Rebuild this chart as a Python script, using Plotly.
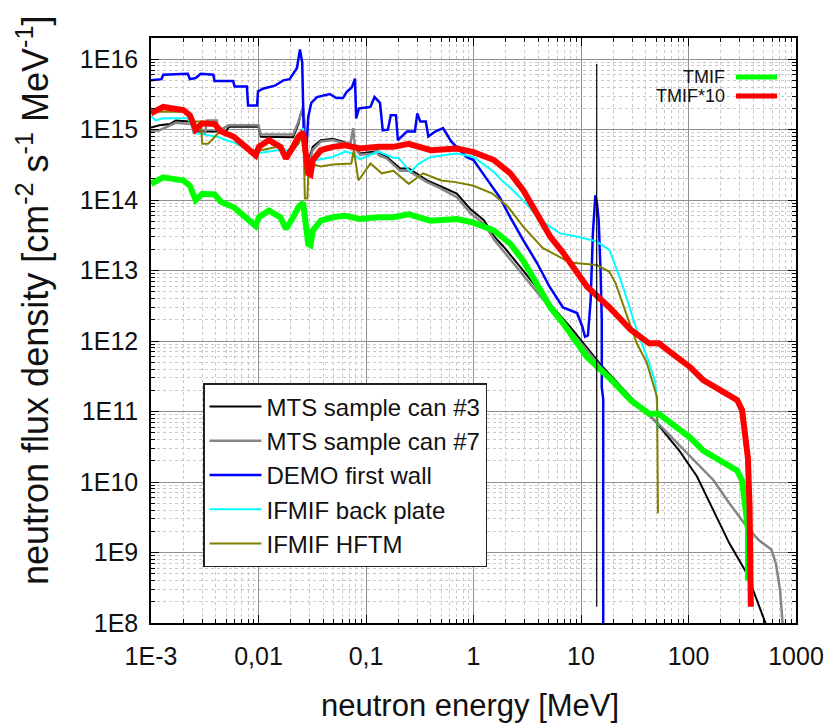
import plotly.graph_objects as go

# ---------------- data ----------------
mts3_E = [1.0e-3, 1.2e-3, 1.5e-3, 1.7e-3, 2.4e-3, 2.5e-3, 5.0e-3, 5.3e-3, 1.0e-2, 0.0105, 0.021,
          0.0235, 0.025, 0.0265, 0.028, 0.032, 0.038, 0.049, 0.06, 0.075, 0.088, 0.12, 0.156,
          0.208, 0.25, 0.37, 0.48, 0.70, 0.94, 1.25, 1.57, 1.9, 2.9, 5.1, 7.9, 11.3, 15.3, 29,
          51, 82, 120, 170, 240, 350, 425, 520, 560]
mts3_flux = [1.07e15, 1.15e15, 1.2e15, 1.35e15, 1.3e15, 9.4e14, 9.4e14, 1.1e15, 1.1e15, 7.9e14, 7.8e14,
             1.2e15, 1.8e15, 1.5e15, 2.9e14, 5.7e14, 7.1e14, 7.4e14, 6.8e14, 6.0e14, 4.6e14, 4.9e14, 4.1e14,
             2.8e14, 2.8e14, 1.9e14, 1.6e14, 1.24e14, 7.4e13, 5.2e13, 3.0e13, 2.2e13, 1.0e13, 3.4e12, 1.6e12,
             8.3e11, 4.6e11, 1.6e11, 6.8e10, 2.8e10, 1.2e10, 4e9, 1.35e9, 5e8, 2.3e8, 1e8, 6e7]

mts7_E = [1.0e-3, 1.2e-3, 1.7e-3, 2.4e-3, 2.5e-3, 3.2e-3, 3.3e-3, 4.1e-3, 4.2e-3, 5.3e-3, 1.0e-2,
          0.0105, 0.021, 0.0235, 0.026, 0.0265, 0.028, 0.032, 0.038, 0.049, 0.06, 0.072, 0.076,
          0.079, 0.088, 0.12, 0.125, 0.13, 0.156, 0.208, 0.25, 0.37, 0.48, 0.70, 0.94, 1.25, 1.57,
          1.9, 2.9, 5.1, 7.9, 11.3, 15.3, 20, 29, 51, 82, 120, 170, 240, 350, 450, 590, 650, 710,
          750, 760]
mts7_flux = [9.6e14, 9.8e14, 1.25e15, 1.2e15, 9.0e14, 9.0e14, 1.35e15, 1.35e15, 9.5e14, 1.15e15, 1.15e15,
             8.5e14, 8.5e14, 1.3e15, 2.1e15, 1.5e15, 2.6e14, 5.2e14, 6.8e14, 7.1e14, 6.5e14, 6.5e14, 1.05e15,
             5.5e14, 4.4e14, 4.6e14, 6.0e14, 4.4e14, 3.9e14, 2.6e14, 2.6e14, 1.8e14, 1.5e14, 1.1e14, 6.5e13,
             4.6e13, 2.7e13, 1.9e13, 8.8e12, 3.0e12, 1.45e12, 7.6e11, 4.3e11, 2.5e11, 1.55e11, 7.0e10, 3.3e10,
             1.8e10, 1.07e10, 5e9, 2.3e9, 1.5e9, 1.1e9, 7e8, 3e8, 1e8, 5e7]

demo_E = [1.0e-3, 1.25e-3, 1.3e-3, 2.2e-3, 2.3e-3, 2.6e-3, 2.9e-3, 3.8e-3, 3.9e-3, 5.8e-3, 6.0e-3,
          7.8e-3, 8.0e-3, 9.7e-3, 9.9e-3, 0.011, 0.0142, 0.017, 0.0195, 0.021, 0.0228, 0.0243,
          0.0255, 0.0265, 0.028, 0.029, 0.031, 0.035, 0.046, 0.053, 0.061, 0.066, 0.074, 0.079,
          0.081, 0.086, 0.11, 0.12, 0.135, 0.143, 0.16, 0.17, 0.19, 0.198, 0.24, 0.285, 0.30, 0.32,
          0.36, 0.38, 0.44, 0.52, 0.58, 0.62, 0.86, 1.0, 1.43, 1.75, 2.2, 2.9, 3.9, 5.1, 6.8, 9.2,
          10.3, 10.9, 11.6, 12.3, 12.9, 13.6, 14.1, 14.6, 15.2, 15.6, 15.6, 16.1, 16.1]
demo_flux = [5.0e15, 5.2e15, 6.0e15, 6.2e15, 5.2e15, 5.4e15, 6.2e15, 6.0e15, 4.9e15, 4.9e15, 4.1e15,
             4.1e15, 2.2e15, 2.2e15, 3.5e15, 3.8e15, 4.2e15, 5.0e15, 5.2e15, 6.3e15, 7.5e15, 1.37e16,
             9.0e15, 6.0e14, 5.7e14, 1.5e15, 2.4e15, 2.9e15, 3.2e15, 2.8e15, 2.8e15, 3.4e15, 4.0e15, 5.3e15,
             1.44e15, 2.0e15, 2.1e15, 2.9e15, 2.4e15, 9.8e14, 1.0e15, 1.6e15, 1.6e15, 7.1e14, 9.4e14, 9.4e14,
             1.7e15, 1.3e15, 1.3e15, 8.0e14, 9.4e14, 1.05e15, 8.0e14, 6.8e14, 4.1e14, 3.7e14, 1.7e14, 1.1e14,
             5.7e13, 2.7e13, 1.28e13, 5.9e12, 3.0e12, 2.5e12, 1.6e12, 1.15e12, 1.2e12, 3.8e12, 3.4e13,
             1.17e14, 9.0e13, 5.2e13, 1.0e13, 2.0e12, 2.2e11, 1.5e11, 5e7]

backplate_E = [1.0e-3, 1.1e-3, 1.3e-3, 2.2e-3, 2.6e-3, 4.1e-3, 6.0e-3, 8.2e-3, 0.0105, 0.015, 0.0195,
               0.0235, 0.026, 0.0275, 0.029, 0.032, 0.035, 0.049, 0.064, 0.075, 0.088, 0.13, 0.18,
               0.20, 0.26, 0.31, 0.4, 0.7, 1.0, 1.55, 1.9, 2.2, 3.1, 4.2, 6.3, 9.5, 14, 18.4, 24, 33,
               43, 49, 51, 51.5]
backplate_flux = [1.55e15, 1.35e15, 1.45e15, 1.45e15, 8.9e14, 7.9e14, 6.5e14, 5.1e14, 4.7e14, 5.1e14, 5.1e14,
                  6.3e14, 1.05e15, 4.0e14, 2.5e14, 3.7e14, 3.7e14, 4.1e14, 4.9e14, 4.6e14, 3.8e14, 4.9e14, 4.0e14,
                  4.0e14, 2.5e14, 3.3e14, 4.1e14, 4.6e14, 4.1e14, 2.5e14, 1.8e14, 1.5e14, 8.9e13, 5.2e13, 3.4e13,
                  3.0e13, 2.6e13, 1.95e13, 6.6e12, 1.45e12, 4.9e11, 2.6e11, 1.2e11, 5.5e10]

hftm_E = [1.0e-3, 1.2e-3, 2.2e-3, 2.5e-3, 2.9e-3, 3.0e-3, 3.4e-3, 3.9e-3, 4.5e-3, 5.5e-3, 6.3e-3,
          8.1e-3, 0.0105, 0.015, 0.017, 0.018, 0.021, 0.0235, 0.025, 0.0262, 0.027, 0.0285, 0.029,
          0.032, 0.038, 0.049, 0.064, 0.073, 0.077, 0.08, 0.085, 0.1, 0.11, 0.14, 0.18, 0.25, 0.34,
          0.5, 0.68, 1.0, 1.5, 1.9, 2.1, 2.9, 4.4, 7.9, 14, 18.4, 21, 27, 33, 41, 49, 51, 52]
hftm_flux = [2.0e15, 1.8e15, 1.8e15, 1.3e15, 1.3e15, 6.3e14, 6.3e14, 7.9e14, 9.8e14, 8.5e14, 7.9e14,
             5.1e14, 5.1e14, 5.7e14, 5.5e14, 4.1e14, 5.1e14, 6.3e14, 7.9e14, 8.0e14, 1.05e14, 1.05e14, 2.1e14,
             3.2e14, 3.0e14, 3.2e14, 3.3e14, 3.3e14, 5.1e14, 3.5e14, 1.9e14, 2.7e14, 3.3e14, 2.4e14, 2.6e14,
             1.7e14, 2.4e14, 1.9e14, 1.8e14, 1.6e14, 1.24e14, 9.1e13, 8.0e13, 4.2e13, 2.1e13, 1.3e13, 1.2e13,
             9.6e12, 6.6e12, 2.2e12, 9.3e11, 4.9e11, 2.0e11, 1.6e11, 3.6e9]

tmif_E = [1.0e-3, 1.3e-3, 1.6e-3, 2.0e-3, 2.3e-3, 2.6e-3, 3.0e-3, 3.9e-3, 4.5e-3, 5.9e-3, 6.7e-3,
          8.1e-3, 9.4e-3, 0.0101, 0.0125, 0.016, 0.018, 0.021, 0.0235, 0.026, 0.0275, 0.029, 0.0305,
          0.032, 0.038, 0.049, 0.064, 0.088, 0.13, 0.18, 0.25, 0.4, 0.7, 1.0, 1.55, 2.2, 2.9, 3.9,
          5.2, 6.8, 11.4, 18.4, 29, 43, 53, 78, 103, 137, 211, 284, 315, 333, 345, 357]
tmif_flux = [1.7e14, 2.1e14, 2.0e14, 1.9e14, 1.6e14, 1.0e14, 1.23e14, 1.2e14, 9.4e13, 7.9e13, 6.7e13,
             5.1e13, 4.3e13, 5.7e13, 7.1e13, 5.7e13, 3.9e13, 5.7e13, 7.9e13, 9.2e13, 5.0e13, 2.4e13, 2.3e13,
             3.7e13, 5.1e13, 5.7e13, 6.0e13, 5.4e13, 5.7e13, 5.7e13, 6.3e13, 5.1e13, 5.4e13, 4.8e13, 3.7e13,
             2.4e13, 1.38e13, 6.5e12, 3.0e12, 1.8e12, 5.9e11, 3.0e11, 1.45e11, 9.3e10, 9.3e10, 5.9e10,
             4.3e10, 2.8e10, 1.9e10, 1.45e10, 1.05e10, 5.5e9, 2.6e9, 2.2e9]
tmif_tail_E = [357]
tmif_tail_flux = [4e8]
tmif10_tail_E = [370, 380]
tmif10_tail_flux = [4.4e9, 1.7e8]

dt14_E = [14, 14]
dt14_flux = [8.5e15, 1.7e8]

x_tickvals = [1e-3, 1e-2, 1e-1, 1, 10, 100, 1000]
x_ticktext = ["1E-3", "0,01", "0,1", "1", "10", "100", "1000"]
y_tickvals = [1e8, 1e9, 1e10, 1e11, 1e12, 1e13, 1e14, 1e15, 1e16]
y_ticktext = ["1E8", "1E9", "1E10", "1E11", "1E12", "1E13", "1E14", "1E15", "1E16"]

# ---------------- figure ----------------
FONT = "Arial, 'Liberation Sans', sans-serif"
fig = go.Figure()

series = [
    ("MTS sample can #3", mts3_E, mts3_flux, "#000000", 2),
    ("MTS sample can #7", mts7_E, mts7_flux, "#858585", 2.5),
    ("DEMO first wall", demo_E, demo_flux, "#0000ff", 2.5),
    ("IFMIF back plate", backplate_E, backplate_flux, "#00ffff", 2),
    ("IFMIF HFTM", hftm_E, hftm_flux, "#808000", 2),
]
for name, xs, ys, col, w in series:
    fig.add_trace(go.Scatter(x=xs, y=ys, mode="lines", name=name,
                             line=dict(color=col, width=w)))

tmif_x = tmif_E + tmif_tail_E
tmif_y = tmif_flux + tmif_tail_flux
tmif10_x = tmif_E + tmif10_tail_E
tmif10_y = [10 * v for v in tmif_flux] + tmif10_tail_flux

fig.add_trace(go.Scatter(x=tmif_x, y=tmif_y, mode="lines", name="TMIF",
                         line=dict(color="#00ff00", width=6), showlegend=False))
fig.add_trace(go.Scatter(x=tmif10_x, y=tmif10_y, mode="lines", name="TMIF*10",
                         line=dict(color="#ff0000", width=6), showlegend=False))
fig.add_trace(go.Scatter(x=dt14_E, y=dt14_flux, mode="lines", showlegend=False,
                         line=dict(color="#000000", width=1.2)))

minor_vals = [m * 10.0 ** k for k in range(-3, 3) for m in range(2, 10)]
minor_y = [m * 10.0 ** k for k in range(8, 17) for m in range(2, 10)]

common = dict(
    showline=True, linecolor="#000000", linewidth=1.5, mirror="allticks",
    ticks="inside", ticklen=8, tickcolor="#000000", tickwidth=1,
    showgrid=True, gridcolor="#909090", gridwidth=1.2,
    tickfont=dict(family=FONT, size=25, color="#111111"),
    zeroline=False, automargin=False,
)
fig.update_xaxes(type="log", range=[-3, 3], tickmode="array",
                 tickvals=x_tickvals, ticktext=x_ticktext, ticklabelstandoff=10,
                 minor=dict(tickmode="array", tickvals=minor_vals, ticks="inside", ticklen=4,
                            tickcolor="#000000", showgrid=True, gridcolor="#c8c8c8",
                            griddash="dot", gridwidth=1),
                 **common)
fig.update_yaxes(type="log", range=[8, 16.3], tickmode="array",
                 tickvals=y_tickvals, ticktext=y_ticktext, ticklabelstandoff=6,
                 minor=dict(tickmode="array", tickvals=minor_y, ticks="inside", ticklen=4,
                            tickcolor="#000000", showgrid=True, gridcolor="#c8c8c8",
                            griddash="dot", gridwidth=1),
                 **common)

W, H = 829, 724
L, R, T, B = 151, 33, 38, 101
pw, ph = W - L - R, H - T - B

def px(x):
    return (x - L) / pw

def py(y):
    return (H - B - y) / ph

fig.update_layout(
    width=W, height=H, autosize=False,
    margin=dict(l=L, r=R, t=T, b=B, autoexpand=False),
    paper_bgcolor="white", plot_bgcolor="white",
    font=dict(family=FONT, color="#111111"),
    legend=dict(x=px(203), y=py(383), xanchor="left", yanchor="top",
                bgcolor="white", bordercolor="#222222", borderwidth=1.5,
                font=dict(family=FONT, size=24, color="#111111"),
                itemwidth=52, tracegroupgap=0),
    annotations=[
        dict(text="neutron flux density [cm<sup>-2</sup> s<sup>-1</sup> MeV<sup>-1</sup>]",
             xref="paper", yref="paper", x=px(33), y=py(301), textangle=-90,
             showarrow=False, xanchor="center", yanchor="middle",
             font=dict(family=FONT, size=36, color="#111111")),
        dict(text="neutron energy [MeV]", xref="paper", yref="paper",
             x=px(470), y=py(705), showarrow=False, xanchor="center", yanchor="middle",
             font=dict(family=FONT, size=31, color="#111111")),
        dict(text="TMIF", xref="paper", yref="paper", x=px(727), y=py(77),
             showarrow=False, xanchor="right", yanchor="middle",
             font=dict(family=FONT, size=18, color="#111111")),
        dict(text="TMIF*10", xref="paper", yref="paper", x=px(727), y=py(96),
             showarrow=False, xanchor="right", yanchor="middle",
             font=dict(family=FONT, size=18, color="#111111")),
    ],
    shapes=[
        dict(type="line", xref="paper", yref="paper", x0=px(736), x1=px(777),
             y0=py(77), y1=py(77), line=dict(color="#00ff00", width=5)),
        dict(type="line", xref="paper", yref="paper", x0=px(736), x1=px(777),
             y0=py(96), y1=py(96), line=dict(color="#ff0000", width=5)),
    ],
)

fig.write_html("out.html", config={"displayModeBar": False},
               post_script="document.body.style.margin='0';document.body.style.padding='0';"
                           "document.body.style.overflow='hidden';")
